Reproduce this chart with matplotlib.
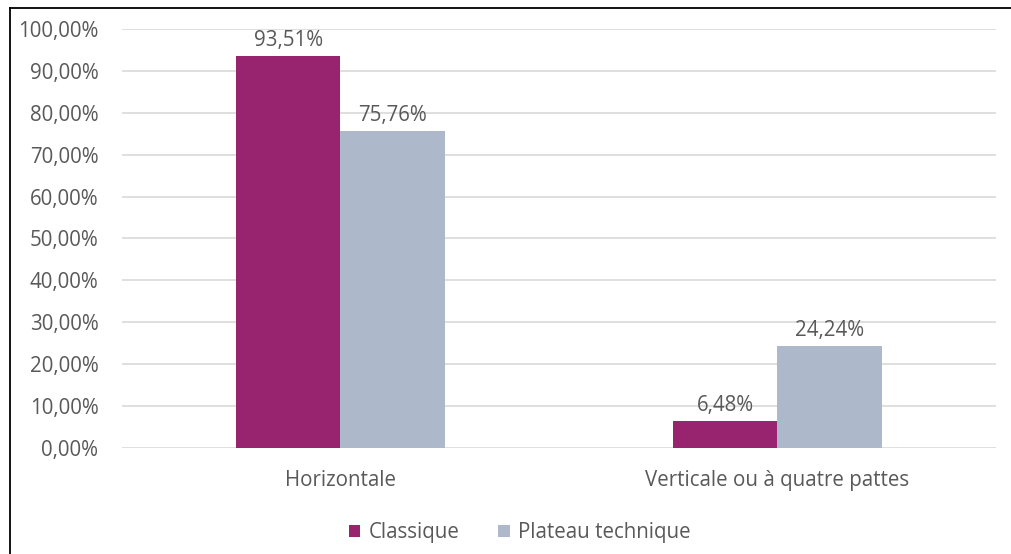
import numpy as np
import matplotlib.pyplot as plt
from matplotlib.lines import Line2D

categories = ["Horizontale", "Verticale ou à quatre pattes"]
series_names = ["Classique", "Plateau technique"]
classique = [93.51, 6.48]
plateau = [75.76, 24.24]
colors = ["#98236E", "#ADB9CA"]

plt.rcParams['font.family'] = ['Open Sans', 'DejaVu Sans']
txt = "#595959"
fs = 14.8

fig = plt.figure(figsize=(10.11, 5.54), dpi=100)
ax = fig.add_axes([0.1207, 0.1913, 0.8643, 0.7564])

x = np.arange(len(categories))
w = 0.239
for i, (vals, name) in enumerate(zip([classique, plateau], series_names)):
    pos = x + (i - 0.5) * w
    bars = ax.bar(pos, vals, width=w, color=colors[i], label=name, zorder=3)
    for b, v in zip(bars, vals):
        ax.text(b.get_x() + b.get_width() / 2, v + 1.2, f"{v:.2f}%".replace(".", ","),
                ha="center", va="bottom", fontsize=fs, color=txt)

ax.set_xlim(-0.5, 1.5)
ax.set_ylim(0, 100)
yt = np.arange(0, 101, 10)
ax.set_yticks(yt)
ax.set_yticklabels([f"{v:.2f}%".replace(".", ",") for v in yt], fontsize=fs, color=txt)
ax.set_xticks(x)
ax.set_xticklabels(categories, fontsize=fs, color=txt)
ax.tick_params(axis="both", length=0)
ax.tick_params(axis="y", pad=17)
ax.tick_params(axis="x", pad=16)
ax.grid(axis="y", color="#D9D9D9", linewidth=1.2, zorder=0)
for s in ax.spines.values():
    s.set_visible(False)

ax.legend(loc="upper center", bbox_to_anchor=(0.455, -0.133), ncol=2, frameon=False,
          fontsize=fs, labelcolor=txt, handlelength=0.55, handleheight=0.55,
          handletextpad=0.4, columnspacing=1.9)

# chart border (left and top edges visible)
fig.add_artist(Line2D([9.5 / 1011, 9.5 / 1011], [0, 1 - 7.5 / 554], color="black", linewidth=1.3,
                      transform=fig.transFigure))
fig.add_artist(Line2D([9.5 / 1011, 1], [1 - 7.5 / 554, 1 - 7.5 / 554], color="black", linewidth=1.3,
                      transform=fig.transFigure))

fig.savefig("out.png", dpi=100)
